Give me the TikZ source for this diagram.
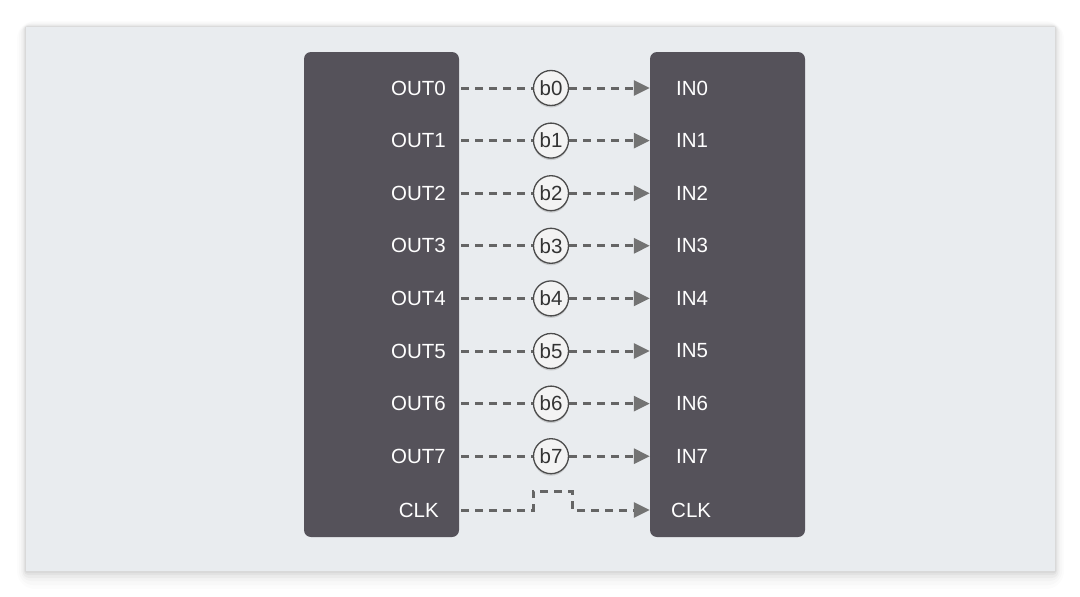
\documentclass[tikz,border=0pt]{standalone}
\usepackage{fontspec}
\setmainfont{Liberation Sans}
\usetikzlibrary{arrows.meta,shadows}

\definecolor{panelgray}{HTML}{E9ECEF}
\definecolor{chipgray}{HTML}{55525A}
\definecolor{wiregray}{HTML}{656565}
\definecolor{bitfill}{HTML}{F3F3F3}

\tikzset{
    chip/.style={rectangle, rounded corners=7pt, fill=chipgray, minimum width=155pt, minimum height=485pt, inner sep=0pt},
    pin/.style={text=white, font=\fontsize{20.5}{23}\selectfont, inner sep=0pt},
    bit/.style={circle, draw=black!70, line width=1.3pt, fill=bitfill, minimum size=35pt, inner sep=0pt,
        text=black!80, font=\fontsize{20.5}{23}\selectfont, drop shadow={shadow xshift=0pt, shadow yshift=-2pt, opacity=0.3}},
    wire/.style={draw=wiregray, line width=3pt, dash pattern=on 8pt off 6pt, -{Triangle[length=16pt, width=15pt, color=black!55]}}
}

\begin{document}
\begin{tikzpicture}[x=1pt, y=-1pt]
    \useasboundingbox (0,0) rectangle (1080,597);
    \fill[white] (0,0) rectangle (1080,597);
    % soft shadow under the panel
    \foreach \s/\o in {18/0.012, 14/0.015, 10/0.02, 7/0.03, 4/0.035, 2/0.04}
        \fill[black, opacity=\o, rounded corners=\s pt] (26-\s/2,27-\s/3) rectangle (1055+\s/2,571+\s);
    \fill[panelgray] (26,27) rectangle (1055,571);

    \node[chip] (sender) at (381.5,294.5) {};
    \node[chip] (receiver) at (727.5,294.5) {};

    \foreach \i in {0,...,7} {
        \pgfmathsetmacro{\ypos}{88+\i*52.6}
        \node[pin, anchor=east] (out\i) at (446,\ypos) {OUT\i};
        \node[pin, anchor=west] (in\i) at (676,\ypos) {IN\i};
        \node[bit] (b\i) at (551,\ypos) {b\i};
        \draw[wire, -] ([xshift=2pt]sender.east |- b\i) -- (b\i);
        \draw[wire] (b\i) -- (receiver.west |- b\i);
    }

    % clock line with one pulse
    \node[pin, anchor=east] (clkout) at (439,510) {CLK};
    \node[pin, anchor=west] (clkin) at (671,510) {CLK};
    \coordinate (rise) at (533,491);
    \coordinate (fall) at (572,491);
    \draw[wire] ([xshift=2pt]sender.east |- clkout) -| (rise) -- (fall) |- (receiver.west |- clkin);
\end{tikzpicture}
\end{document}
